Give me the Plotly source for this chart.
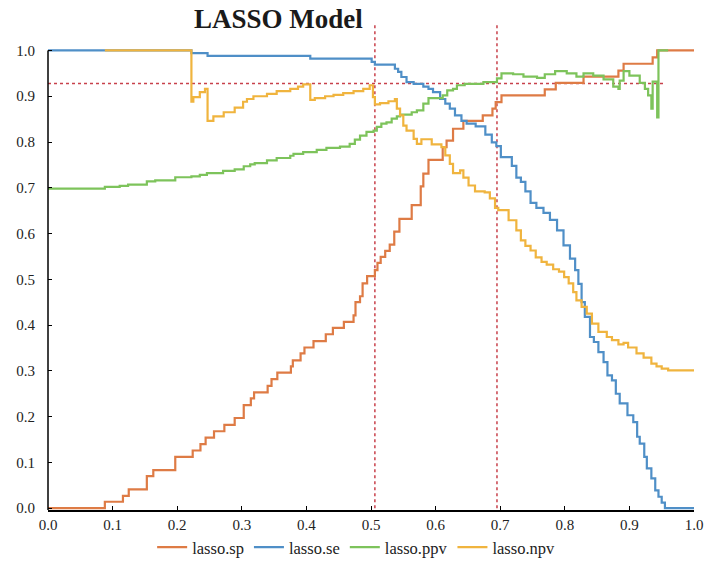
import plotly.graph_objects as go

# ---- data ----
sp_x = [0, 0.088, 0.116, 0.125, 0.153, 0.163, 0.197, 0.224, 0.236, 0.244,
        0.257, 0.273, 0.289, 0.303, 0.314, 0.319, 0.340, 0.346, 0.355, 0.376,
        0.379, 0.391, 0.397, 0.411, 0.430, 0.441, 0.458, 0.473, 0.476, 0.483,
        0.487, 0.494, 0.506, 0.510, 0.515, 0.522, 0.529, 0.536, 0.544, 0.563,
        0.577, 0.581, 0.589, 0.611, 0.617, 0.627, 0.643, 0.673, 0.688, 0.693,
        0.702, 0.769, 0.786, 0.829, 0.883, 0.891, 0.936, 0.943, 1.0]
sp_y = [0, 0.014, 0.027, 0.041, 0.070, 0.083, 0.112, 0.126, 0.140, 0.154,
        0.168, 0.182, 0.197, 0.225, 0.240, 0.253, 0.267, 0.282, 0.296, 0.310,
        0.323, 0.338, 0.351, 0.365, 0.380, 0.394, 0.407, 0.421, 0.450, 0.463,
        0.491, 0.507, 0.520, 0.536, 0.549, 0.562, 0.576, 0.604, 0.632, 0.662,
        0.703, 0.731, 0.761, 0.789, 0.803, 0.829, 0.846, 0.858, 0.873, 0.887,
        0.902, 0.915, 0.929, 0.943, 0.956, 0.971, 0.985, 1.0, 1.0]

se_x = [0, 0.222, 0.247, 0.406, 0.501, 0.506, 0.537, 0.542, 0.547, 0.555,
        0.566, 0.581, 0.589, 0.596, 0.607, 0.615, 0.622, 0.630, 0.640, 0.648,
        0.662, 0.677, 0.687, 0.694, 0.701, 0.718, 0.725, 0.732, 0.739, 0.747,
        0.756, 0.767, 0.777, 0.788, 0.798, 0.808, 0.816, 0.821, 0.826, 0.831,
        0.839, 0.845, 0.852, 0.860, 0.866, 0.873, 0.879, 0.885, 0.897, 0.906,
        0.912, 0.916, 0.923, 0.927, 0.934, 0.940, 0.945, 0.950, 0.955, 0.959,
        1.0]
se_y = [1.0, 0.994, 0.988, 0.982, 0.975, 0.969, 0.960, 0.953, 0.942, 0.931,
        0.927, 0.921, 0.916, 0.909, 0.894, 0.884, 0.873, 0.858, 0.846, 0.840,
        0.834, 0.816, 0.799, 0.791, 0.767, 0.748, 0.722, 0.713, 0.692, 0.667,
        0.656, 0.645, 0.630, 0.607, 0.574, 0.545, 0.520, 0.490, 0.450, 0.418,
        0.374, 0.363, 0.341, 0.319, 0.290, 0.279, 0.250, 0.229, 0.203, 0.188,
        0.156, 0.141, 0.112, 0.087, 0.065, 0.039, 0.025, 0.012, 0.0, 0.0,
        0.0]

ppv_x = [0, 0.088, 0.111, 0.124, 0.153, 0.166, 0.197, 0.222, 0.235, 0.246,
         0.271, 0.289, 0.303, 0.313, 0.320, 0.339, 0.354, 0.375, 0.380, 0.395,
         0.416, 0.431, 0.452, 0.467, 0.475, 0.483, 0.493, 0.504, 0.509, 0.516,
         0.524, 0.532, 0.540, 0.545, 0.563, 0.571, 0.581, 0.589, 0.611, 0.618,
         0.627, 0.633, 0.645, 0.674, 0.695, 0.702, 0.720, 0.736, 0.757, 0.769,
         0.785, 0.803, 0.818, 0.829, 0.844, 0.860, 0.875, 0.883, 0.885, 0.891,
         0.900, 0.916, 0.924, 0.929, 0.934, 0.936, 0.940, 0.943, 0.945, 0.960]
ppv_y = [0.698, 0.702, 0.704, 0.707, 0.714, 0.716, 0.723, 0.725, 0.728, 0.732,
         0.737, 0.740, 0.747, 0.751, 0.754, 0.760, 0.765, 0.770, 0.774, 0.778,
         0.783, 0.787, 0.790, 0.796, 0.805, 0.814, 0.822, 0.825, 0.833, 0.840,
         0.843, 0.851, 0.856, 0.860, 0.865, 0.869, 0.884, 0.896, 0.902, 0.913,
         0.916, 0.924, 0.927, 0.931, 0.939, 0.950, 0.948, 0.943, 0.940, 0.948,
         0.955, 0.950, 0.943, 0.950, 0.945, 0.937, 0.921, 0.916, 0.934, 0.955,
         0.945, 0.929, 0.916, 0.902, 0.873, 0.932, 0.932, 0.854, 1.0, 1.0]

npv_x = [0.088, 0.222, 0.225, 0.235, 0.243, 0.247, 0.256, 0.272, 0.289, 0.302,
         0.308, 0.318, 0.339, 0.354, 0.375, 0.387, 0.395, 0.406, 0.413, 0.429,
         0.442, 0.457, 0.473, 0.488, 0.498, 0.503, 0.506, 0.514, 0.527, 0.537,
         0.540, 0.545, 0.550, 0.555, 0.566, 0.571, 0.578, 0.594, 0.609, 0.615,
         0.622, 0.627, 0.638, 0.643, 0.651, 0.661, 0.676, 0.684, 0.692, 0.697,
         0.713, 0.725, 0.732, 0.739, 0.747, 0.755, 0.764, 0.772, 0.782, 0.791,
         0.799, 0.806, 0.813, 0.818, 0.826, 0.834, 0.842, 0.852, 0.865, 0.873,
         0.883, 0.891, 0.898, 0.911, 0.922, 0.934, 0.942, 0.950, 0.960, 1.0]
npv_y = [1.0, 0.888, 0.898, 0.909, 0.916, 0.846, 0.856, 0.865, 0.875, 0.888,
         0.894, 0.900, 0.905, 0.911, 0.916, 0.921, 0.926, 0.892, 0.896, 0.900,
         0.903, 0.907, 0.911, 0.916, 0.924, 0.898, 0.882, 0.885, 0.889, 0.894,
         0.873, 0.858, 0.836, 0.825, 0.807, 0.796, 0.806, 0.795, 0.789, 0.771,
         0.752, 0.732, 0.738, 0.722, 0.705, 0.692, 0.690, 0.677, 0.656, 0.651,
         0.629, 0.607, 0.585, 0.573, 0.563, 0.548, 0.538, 0.532, 0.522, 0.517,
         0.505, 0.491, 0.472, 0.454, 0.440, 0.425, 0.403, 0.385, 0.374, 0.367,
         0.358, 0.361, 0.351, 0.338, 0.329, 0.316, 0.310, 0.305, 0.301, 0.301]

series_names = ["lasso.sp", "lasso.se", "lasso.ppv", "lasso.npv"]
series_colors = ["#DE7B45", "#4F8FC7", "#7DC35B", "#F0B43E"]

ref_h = 0.928          # horizontal reference level
ref_h_end = 0.952      # where the horizontal reference stops
ref_v = [0.506, 0.695] # vertical cut-off lines
ref_v_top = 1.055

x_ticks = [0.0, 0.1, 0.2, 0.3, 0.4, 0.5, 0.6, 0.7, 0.8, 0.9, 1.0]
y_ticks = [0.0, 0.1, 0.2, 0.3, 0.4, 0.5, 0.6, 0.7, 0.8, 0.9, 1.0]
tick_text = ["%.1f" % v for v in x_ticks]

title_text = "LASSO Model"

# ---- figure ----
FONT = "Liberation Serif"
TXT = "#222222"
fig = go.Figure()
for xs, ys, nm, col in zip([sp_x, se_x, ppv_x, npv_x],
                           [sp_y, se_y, ppv_y, npv_y],
                           series_names, series_colors):
    assert len(xs) == len(ys)
    fig.add_trace(go.Scatter(x=xs, y=ys, mode="lines", name=nm,
                             line=dict(color=col, width=2.2, shape="hv")))

dot = dict(color="#C8414B", width=1.5, dash="dot")
fig.add_shape(type="line", xref="x", yref="y", x0=0, x1=ref_h_end,
              y0=ref_h, y1=ref_h, line=dot, layer="below")
for xv in ref_v:
    fig.add_shape(type="line", xref="x", yref="y", x0=xv, x1=xv,
                  y0=0, y1=ref_v_top, line=dot, layer="below")
# y axis line only from 0 to 1.0
fig.add_shape(type="line", xref="paper", yref="y", x0=0, x1=0,
              y0=-0.004, y1=1.0, line=dict(color="black", width=1.5))

fig.add_annotation(text="<b>" + title_text + "</b>", xref="paper", yref="paper",
                   x=0.357, y=1.008, xanchor="center", yanchor="middle",
                   showarrow=False,
                   font=dict(family=FONT, size=27, color="#1a1a1a"))

fig.update_layout(
    width=708, height=565,
    margin=dict(l=48, r=14, t=22.5, b=55.2, autoexpand=False),
    paper_bgcolor="white", plot_bgcolor="white",
    font=dict(family=FONT, size=15, color=TXT),
    showlegend=True,
    legend=dict(orientation="h", xanchor="center", yanchor="middle",
                x=0.477, y=-0.077, font=dict(family=FONT, size=16.5, color=TXT),
                itemwidth=30, tracegroupgap=0),
    xaxis=dict(range=[0, 1.0], tickvals=x_ticks, ticktext=tick_text,
               automargin=False,
               showgrid=False, zeroline=False, showline=True,
               linecolor="black", linewidth=1.5, ticks="inside", ticklen=4,
               tickcolor="black", tickfont=dict(family=FONT, size=15, color=TXT)),
    yaxis=dict(range=[-0.004, 1.06], tickvals=y_ticks, ticktext=tick_text,
               automargin=False,
               showgrid=False, zeroline=False, showline=False,
               ticks="inside", ticklen=4, tickcolor="black",
               ticklabelstandoff=12,
               tickfont=dict(family=FONT, size=15, color=TXT)),
)

# remove the browser's default 8px page margin so the figure fills the window
fig.write_html("out.html",
               config={"displayModeBar": False},
               post_script="document.body.style.margin='0px';document.body.style.overflow='hidden';")
